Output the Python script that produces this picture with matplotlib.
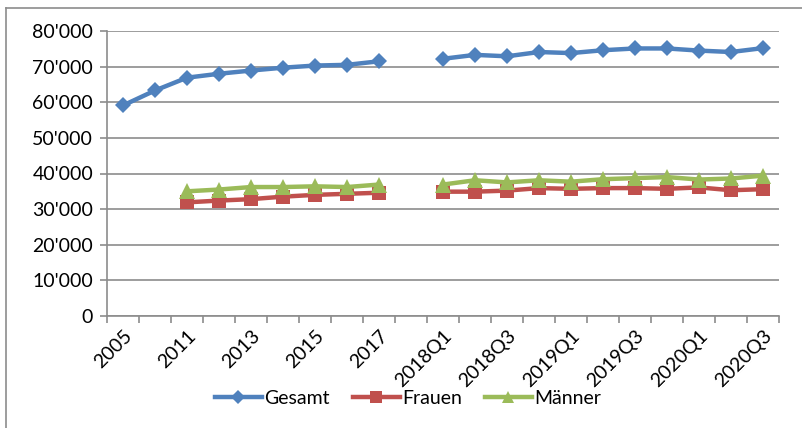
import numpy as np
import matplotlib
matplotlib.use("Agg")
import matplotlib.pyplot as plt
from matplotlib.lines import Line2D
from matplotlib.ticker import FuncFormatter, FixedLocator

plt.rcParams['font.family'] = ['Lato', 'DejaVu Sans']

categories = ["2005", "2010", "2011", "2012", "2013", "2014", "2015", "2016", "2017", "",
              "2018Q1", "2018Q2", "2018Q3", "2018Q4", "2019Q1", "2019Q2", "2019Q3", "2019Q4",
              "2020Q1", "2020Q2", "2020Q3"]
nan = np.nan
gesamt = [59100, 63300, 66900, 68000, 68900, 69700, 70300, 70500, 71500, nan,
          72200, 73300, 72900, 74100, 73800, 74600, 75100, 75100, 74500, 74100, 75200]
frauen = [nan, nan, 31900, 32400, 32800, 33500, 34000, 34300, 34600, nan,
          34900, 34900, 35200, 35900, 35700, 35900, 35900, 35700, 36100, 35300, 35600]
maenner = [nan, nan, 35000, 35500, 36200, 36200, 36400, 36200, 36900, nan,
           36900, 38100, 37500, 38100, 37700, 38400, 38700, 39000, 38300, 38600, 39400]
series_names = ["Gesamt", "Frauen", "Männer"]
yticks = [0, 10000, 20000, 30000, 40000, 50000, 60000, 70000, 80000]

W, H = 802, 428
fig = plt.figure(figsize=(W / 100, H / 100), dpi=100)
left, right, top, bottom = 107, 779, 31, 316
ax = fig.add_axes([left / W, 1 - bottom / H, (right - left) / W, (bottom - top) / H])

colors = ["#4F81BD", "#C0504D", "#9BBB59"]
markers = ["D", "s", "^"]
msizes = [7.8, 10, 11]
x = np.arange(len(categories))
handles = []
for vals, c, m, ms, name in zip([gesamt, frauen, maenner], colors, markers, msizes, series_names):
    ax.plot(x, vals, color=c, lw=3.2, marker=m, ms=ms, markeredgewidth=0, zorder=3,
            solid_joinstyle='round')
    handles.append(Line2D([], [], color=c, lw=3.2, marker=m, ms=ms * 0.85, markeredgewidth=0,
                          label=name))

gridc = "#8C8C8C"
fs = 14
ax.set_xlim(-0.5, len(categories) - 0.5)
ax.set_ylim(0, 80000)
ax.set_yticks(yticks)
ax.yaxis.set_major_formatter(FuncFormatter(lambda v, p: "0" if v == 0 else f"{int(v):,}".replace(",", "'")))
ax.grid(axis='y', color=gridc, lw=1.2)
ax.set_axisbelow(True)
for s in ["top", "right"]:
    ax.spines[s].set_visible(False)
for s in ["left", "bottom"]:
    ax.spines[s].set_color(gridc)
    ax.spines[s].set_linewidth(1.2)
ax.tick_params(axis='y', length=5, width=1.2, color=gridc, labelsize=fs, pad=5)

# x ticks: marks between categories, labels at every other category
ax.xaxis.set_major_locator(FixedLocator(np.arange(-0.5, len(categories), 1.0)))
ax.xaxis.set_major_formatter(FuncFormatter(lambda v, p: ""))
ax.xaxis.set_minor_locator(FixedLocator(x[::2]))
ax.set_xticklabels(categories[::2], minor=True)
ax.tick_params(axis='x', which='major', length=5, width=1.2, color=gridc)
ax.tick_params(axis='x', which='minor', length=0, labelsize=fs, pad=8)
for lab in ax.get_xticklabels(minor=True):
    lab.set_rotation(45)
    lab.set_ha('right')
    lab.set_va('top')
    lab.set_rotation_mode('anchor')

# chart area border (partially cut off)
fig.add_artist(Line2D([5.5 / W, 5.5 / W], [0, 1 - 8 / H], transform=fig.transFigure, color=gridc, lw=1.2))
fig.add_artist(Line2D([5.5 / W, 1], [1 - 8 / H, 1 - 8 / H], transform=fig.transFigure, color=gridc, lw=1.2))

fig.legend(handles=handles, loc='center', bbox_to_anchor=(408 / W, 1 - 398 / H), ncol=3,
           frameon=False, fontsize=fs, handlelength=2.4, handletextpad=0.12, columnspacing=1.2)

fig.savefig("out.png", dpi=100)
